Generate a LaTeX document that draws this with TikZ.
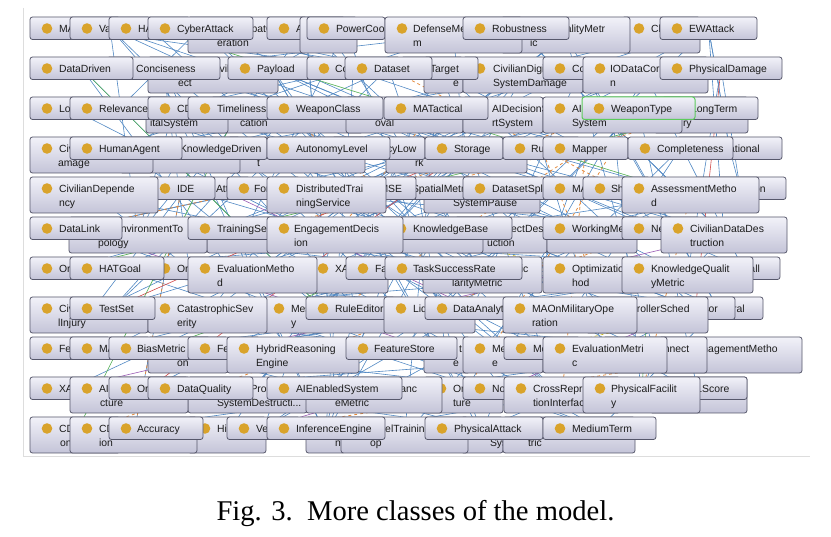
\documentclass[tikz,border=0pt]{standalone}
\usepackage{fontspec}
\setmainfont{Liberation Serif}
\newfontfamily\lsans{Liberation Sans}
\pgfdeclarelayer{bg}
\pgfsetlayers{bg,main}
\definecolor{boxtop}{HTML}{F2F2F9}
\definecolor{boxbot}{HTML}{C4C4D8}
\definecolor{boxline}{HTML}{56576B}
\definecolor{dotc}{HTML}{D9A32B}
\definecolor{wtgreen}{HTML}{5CCB5C}
\definecolor{edgeblue}{HTML}{5289C4}
\definecolor{edgeorange}{HTML}{E5883A}
\definecolor{edgered}{HTML}{D24A4A}
\definecolor{edgegreen}{HTML}{4FAF50}
\definecolor{edgepurple}{HTML}{9A5BB5}
\definecolor{edgeyellow}{HTML}{CDBB22}
\definecolor{textc}{HTML}{1C1C1C}
\definecolor{panelc}{HTML}{DDDDDD}
\tikzset{
  cbox/.style={rectangle, rounded corners=2.5pt, draw=boxline, line width=0.8pt,
    top color=boxtop, bottom color=boxbot, inner sep=0pt, outer sep=0pt},
  ctext/.style={anchor=base west, inner sep=0pt, outer sep=0pt, text=textc,
    font=\lsans\fontsize{10.4}{12}\selectfont},
  edgeb/.style={draw=edgeblue, line width=0.6pt},
  edgeo/.style={draw=edgeorange, line width=0.75pt, dashed},
  edger/.style={draw=edgered, line width=0.6pt},
  edgeg/.style={draw=edgegreen, line width=0.6pt},
  edgep/.style={draw=edgepurple, line width=0.6pt},
  edgey/.style={draw=edgeyellow, line width=0.6pt, dashed},
  panel/.style={draw=panelc, line width=0.8pt}
}
\newcounter{bxc}
% L, R, row, lines, x1, text1, x2, text2, extra style
\newcommand\bx[9]{%
  \stepcounter{bxc}%
  \pgfmathsetmacro\bxT{17+40*(#3-1)}%
  \pgfmathsetmacro\bxH{22.5+13.5*(#4-1)}%
  \pgfmathsetmacro\bxW{#2-#1}%
  \node[cbox, minimum width=\bxW pt, minimum height=\bxH pt, anchor=north west, #9] (n\arabic{bxc}) at (#1,\bxT) {};
  \fill[dotc] (#1+17,\bxT+11.5) circle[radius=5.3pt];
  \node[ctext] (n\arabic{bxc}a) at (#5,\bxT+15.5) {#6};
  \node[ctext] (n\arabic{bxc}b) at (#7,\bxT+29.5) {#8};
}
\begin{document}
\begin{tikzpicture}[x=1pt,y=-1pt]
\useasboundingbox (0,0) rectangle (831,537);
% ---- row 1
\bx{30}{120}{1}{1}{59}{MAStrategic}{59}{}{}
\bx{70}{150}{1}{1}{99}{Validity}{99}{}{}
\bx{109}{190}{1}{1}{138}{HATeam}{138}{}{}
\bx{188}{307}{1}{2}{217}{AirCombatOp}{217}{eration}{}
\bx{148}{253}{1}{1}{177}{CyberAttack}{177}{}{}
\bx{267}{345}{1}{1}{296}{AIAgent}{296}{}{}
\bx{300}{357}{1}{2}{329}{}{329}{}{}
\bx{307}{385}{1}{1}{336}{PowerCoordination}{336}{}{}
\bx{622}{700}{1}{2}{651}{Classification}{651}{}{}
\bx{501}{630}{1}{2}{530}{DataQualityMetr}{530}{ic}{}
\bx{385}{522}{1}{2}{413}{DefenseMechanis}{413}{m}{}
\bx{463}{569}{1}{1}{492}{Robustness}{492}{}{}
\bx{660}{757}{1}{1}{689}{EWAttack}{689}{}{}
% ---- row 2
\bx{148}{278}{2}{2}{170}{DualUseCivilObj}{178}{ect}{}
\bx{107}{220}{2}{1}{136}{Conciseness}{136}{}{}
\bx{30}{133}{2}{1}{59}{DataDriven}{59}{}{}
\bx{228}{315}{2}{1}{257}{Payload}{257}{}{}
\bx{424}{463}{2}{2}{453}{}{453}{e}{}
\bx{463}{583}{2}{2}{493}{CivilianDigital}{493}{SystemDamage}{}
\bx{401}{478}{2}{1}{430}{Target}{430}{}{}
\bx{307}{400}{2}{1}{335}{Compliance}{335}{}{}
\bx{345}{432}{2}{1}{374}{Dataset}{374}{}{}
\bx{543}{620}{2}{1}{572}{Collateral}{572}{}{}
\bx{583}{708}{2}{2}{610}{IODataCorruptio}{610}{n}{}
\bx{660}{782}{2}{1}{689}{PhysicalDamage}{689}{}{}
% ---- row 3
\bx{211}{363}{3}{2}{240}{}{240}{cation}{}
\bx{146}{228}{3}{2}{150}{}{150}{italSystem}{}
\bx{30}{110}{3}{1}{59}{Logistics}{59}{}{}
\bx{70}{169}{3}{1}{99}{Relevance}{99}{}{}
\bx{148}{200}{3}{1}{177}{CDS}{177}{}{}
\bx{188}{290}{3}{1}{217}{Timeliness}{217}{}{}
\bx{346}{463}{3}{2}{375}{}{375}{oval}{}
\bx{267}{383}{3}{1}{296}{WeaponClass}{296}{}{}
\bx{463}{543}{3}{2}{492}{AIDecisionSuppo}{492}{rtSystem}{}
\bx{384}{488}{3}{1}{413}{MATactical}{413}{}{}
\bx{654}{748}{3}{2}{683}{}{683}{ry}{}
\bx{662}{758}{3}{1}{691}{LongTerm}{691}{}{}
\bx{543}{682}{3}{2}{572}{AIBasedWeapon}{572}{System}{}
\bx{582}{695}{3}{1}{611}{WeaponType}{611}{}{draw=wtgreen, line width=1pt}
% ---- row 4
\bx{228}{365}{4}{2}{257}{}{257}{t}{}
\bx{120}{240}{4}{2}{149}{}{149}{}{}
\bx{153}{267}{4}{1}{180}{KnowledgeDriven}{180}{}{}
\bx{30}{153}{4}{2}{59}{CivilianAssetD}{58}{amage}{}
\bx{70}{182}{4}{1}{99}{HumanAgent}{99}{}{}
\bx{386}{527}{4}{2}{415}{}{415}{rk}{}
\bx{332}{425}{4}{1}{361}{LatencyLow}{361}{}{}
\bx{267}{390}{4}{1}{296}{AutonomyLevel}{296}{}{}
\bx{425}{503}{4}{1}{454}{Storage}{454}{}{}
\bx{503}{580}{4}{1}{531}{Ruleset}{531}{}{}
\bx{543}{628}{4}{1}{572}{Mapper}{572}{}{}
\bx{677}{782}{4}{1}{706}{Operational}{706}{}{}
\bx{628}{733}{4}{1}{657}{Completeness}{657}{}{}
% ---- row 5
\bx{187}{250}{5}{1}{216}{Attribute}{216}{}{}
\bx{148}{215}{5}{1}{177}{IDE}{177}{}{}
\bx{30}{158}{5}{2}{59}{CivilianDepende}{59}{ncy}{}
\bx{227}{300}{5}{1}{254}{Format}{254}{}{}
\bx{424}{540}{5}{2}{453}{}{453}{SystemPause}{}
\bx{385}{480}{5}{1}{412}{SpatialMetric}{412}{}{}
\bx{343}{416}{5}{1}{372}{RMSE}{372}{}{}
\bx{267}{386}{5}{2}{296}{DistributedTrai}{296}{ningService}{}
\bx{463}{572}{5}{1}{492}{DatasetSplit}{492}{}{}
\bx{543}{600}{5}{1}{572}{MAStrategy}{572}{}{}
\bx{583}{650}{5}{1}{611}{Sharing}{611}{}{}
\bx{694}{786}{5}{1}{723}{Precision}{723}{}{}
\bx{622}{759}{5}{2}{651}{AssessmentMetho}{651}{d}{}
% ---- row 6
\bx{207}{280}{6}{2}{236}{}{236}{}{}
\bx{69}{207}{6}{2}{104}{AIEnvironmentTo}{98}{pology}{}
\bx{30}{122}{6}{1}{59}{DataLink}{59}{}{}
\bx{188}{300}{6}{1}{217}{TrainingService}{217}{}{}
\bx{455}{547}{6}{2}{495}{ObjectDestr}{487}{uction}{}
\bx{380}{483}{6}{2}{409}{}{409}{}{}
\bx{384}{512}{6}{1}{413}{KnowledgeBase}{413}{}{}
\bx{267}{403}{6}{2}{294}{EngagementDecis}{294}{ion}{}
\bx{547}{637}{6}{2}{576}{}{576}{}{}
\bx{543}{640}{6}{1}{572}{WorkingMemory}{572}{}{}
\bx{622}{700}{6}{1}{651}{Network}{651}{}{}
\bx{661}{787}{6}{2}{690}{CivilianDataDes}{690}{truction}{}
% ---- row 7
\bx{148}{230}{7}{1}{177}{Organization}{177}{}{}
\bx{30}{110}{7}{1}{59}{Organization}{59}{}{}
\bx{70}{164}{7}{1}{99}{HATGoal}{99}{}{}
\bx{306}{388}{7}{2}{335}{XAIMethod}{335}{}{}
\bx{188}{317}{7}{2}{217}{EvaluationMetho}{217}{d}{}
\bx{346}{430}{7}{1}{375}{Fairness}{375}{}{}
\bx{423}{542}{7}{2}{452}{TextualSemantic}{452}{larityMetric}{}
\bx{385}{522}{7}{1}{413}{TaskSuccessRate}{413}{}{}
\bx{543}{640}{7}{2}{572}{OptimizationMet}{572}{hod}{}
\bx{706}{780}{7}{1}{731}{Recall}{731}{}{}
\bx{622}{753}{7}{2}{651}{KnowledgeQualit}{651}{yMetric}{}
% ---- row 8
\bx{30}{148}{8}{2}{59}{CivilianPhysica}{58}{lInjury}{}
\bx{262}{395}{8}{2}{291}{MessageIntegrit}{291}{y}{}
\bx{148}{267}{8}{2}{177}{CatastrophicSev}{177}{erity}{}
\bx{70}{155}{8}{1}{99}{TestSet}{99}{}{}
\bx{306}{405}{8}{1}{335}{RuleEditor}{335}{}{}
\bx{384}{475}{8}{2}{413}{LidarSensor}{413}{}{}
\bx{425}{520}{8}{1}{453}{DataAnalytics}{453}{}{}
\bx{673}{763}{8}{1}{702}{Temporal}{702}{}{}
\bx{656}{735}{8}{1}{685}{Sensor}{685}{}{}
\bx{586}{708}{8}{2}{615}{ControllerSched}{615}{}{}
\bx{503}{637}{8}{2}{532}{MAOnMilitaryOpe}{532}{ration}{}
% ---- row 9
\bx{148}{228}{9}{2}{177}{}{177}{on}{}
\bx{30}{110}{9}{1}{59}{Feature}{59}{}{}
\bx{70}{150}{9}{1}{99}{MAStrategy}{99}{}{}
\bx{109}{210}{9}{1}{137}{BiasMetric}{137}{}{}
\bx{188}{260}{9}{1}{217}{Feedback}{217}{}{}
\bx{227}{359}{9}{2}{256}{HybridReasoning}{256}{Engine}{}
\bx{424}{470}{9}{2}{459}{t}{453}{e}{}
\bx{346}{457}{9}{1}{374}{FeatureStore}{374}{}{}
\bx{463}{543}{9}{2}{492}{MeasurementScal}{492}{e}{}
\bx{504}{580}{9}{1}{533}{Method}{533}{}{}
\bx{659}{802}{9}{2}{688}{ManagementMetho}{688}{d}{}
\bx{603}{707}{9}{2}{632}{Interconnect}{632}{}{}
\bx{543}{667}{9}{2}{572}{EvaluationMetri}{572}{c}{}
% ---- row 10
\bx{188}{307}{10}{2}{217}{CivilianPropert}{217}{SystemDestructi...}{}
\bx{30}{110}{10}{1}{59}{XAI}{59}{}{}
\bx{70}{188}{10}{2}{99}{AISystemArchite}{100}{cture}{}
\bx{109}{190}{10}{1}{137}{Organization}{137}{}{}
\bx{148}{253}{10}{1}{177}{DataQuality}{177}{}{}
\bx{424}{503}{10}{2}{453}{OrganizationStr}{453}{ture}{}
\bx{306}{442}{10}{2}{335}{ModelPerformanc}{335}{eMetric}{}
\bx{267}{402}{10}{1}{296}{AIEnabledSystem}{296}{}{}
\bx{463}{540}{10}{1}{492}{NoiseLevel}{492}{}{}
\bx{650}{747}{10}{2}{679}{}{679}{}{}
\bx{662}{747}{10}{1}{690}{F1Score}{690}{}{}
\bx{504}{620}{10}{2}{533}{CrossRepresenta}{533}{tionInterface}{}
\bx{583}{700}{10}{2}{611}{PhysicalFacilit}{611}{y}{}
% ---- row 11
\bx{461}{503}{11}{2}{490}{}{490}{System}{}
\bx{503}{635}{11}{2}{528}{}{528}{tric}{}
\bx{188}{266}{11}{2}{217}{HighRisk}{217}{}{}
\bx{30}{120}{11}{2}{59}{CDCommunicati}{60}{on}{}
\bx{70}{197}{11}{2}{99}{CDCoordinat}{99}{ion}{}
\bx{109}{203}{11}{1}{137}{Accuracy}{137}{}{}
\bx{227}{300}{11}{1}{256}{Vehicle}{256}{}{}
\bx{306}{345}{11}{2}{335}{}{335}{n}{}
\bx{341}{468}{11}{2}{365}{ModelTrainingLo}{370}{op}{}
\bx{267}{385}{11}{1}{296}{InferenceEngine}{296}{}{}
\bx{425}{543}{11}{1}{454}{PhysicalAttack}{454}{}{}
\bx{543}{656}{11}{1}{572}{MediumTerm}{572}{}{}
% ---- connectors (behind the boxes)
\edef\nbx{\arabic{bxc}}
\begin{pgfonlayer}{bg}
\fill[white] (0,0) rectangle (831,537);
\coordinate (pa) at (23,8);
\coordinate (pb) at (23,456);
\coordinate (pc) at (810,456);
\draw[panel] (pa) -- (pb) -- (pc);
\pgfmathsetseed{4711}
\foreach \k in {1,...,190}{%
  \pgfmathtruncatemacro\ea{random(1,\nbx)}%
  \pgfmathtruncatemacro\eb{random(1,\nbx)}%
  \draw[edgeb] (n\ea.center) -- (n\eb.center);
}
\foreach \k in {1,...,16}{%
  \pgfmathtruncatemacro\ea{random(20,\nbx)}%
  \pgfmathtruncatemacro\eb{random(20,\nbx)}%
  \draw[edgeo] (n\ea.center) -- (n\eb.center);
}
\foreach \k in {1,...,6}{%
  \pgfmathtruncatemacro\ea{random(20,\nbx)}%
  \pgfmathtruncatemacro\eb{random(20,\nbx)}%
  \draw[edger] (n\ea.center) -- (n\eb.center);
}
\foreach \k in {1,...,6}{%
  \pgfmathtruncatemacro\ea{random(1,\nbx)}%
  \pgfmathtruncatemacro\eb{random(1,\nbx)}%
  \draw[edgeg] (n\ea.center) -- (n\eb.center);
}
\foreach \k in {1,...,6}{%
  \pgfmathtruncatemacro\ea{random(30,\nbx)}%
  \pgfmathtruncatemacro\eb{random(30,\nbx)}%
  \draw[edgep] (n\ea.center) -- (n\eb.center);
}
\foreach \k in {1,...,6}{%
  \pgfmathtruncatemacro\ea{random(30,\nbx)}%
  \pgfmathtruncatemacro\eb{random(30,\nbx)}%
  \draw[edgey] (n\ea.center) -- (n\eb.center);
}
\end{pgfonlayer}
% ---- caption
\node[anchor=base, inner sep=0pt, font=\fontsize{28.6}{34}\selectfont] (cap) at (415.5,521) {Fig. 3.\ \ More classes of the model.};
\end{tikzpicture}
\end{document}
